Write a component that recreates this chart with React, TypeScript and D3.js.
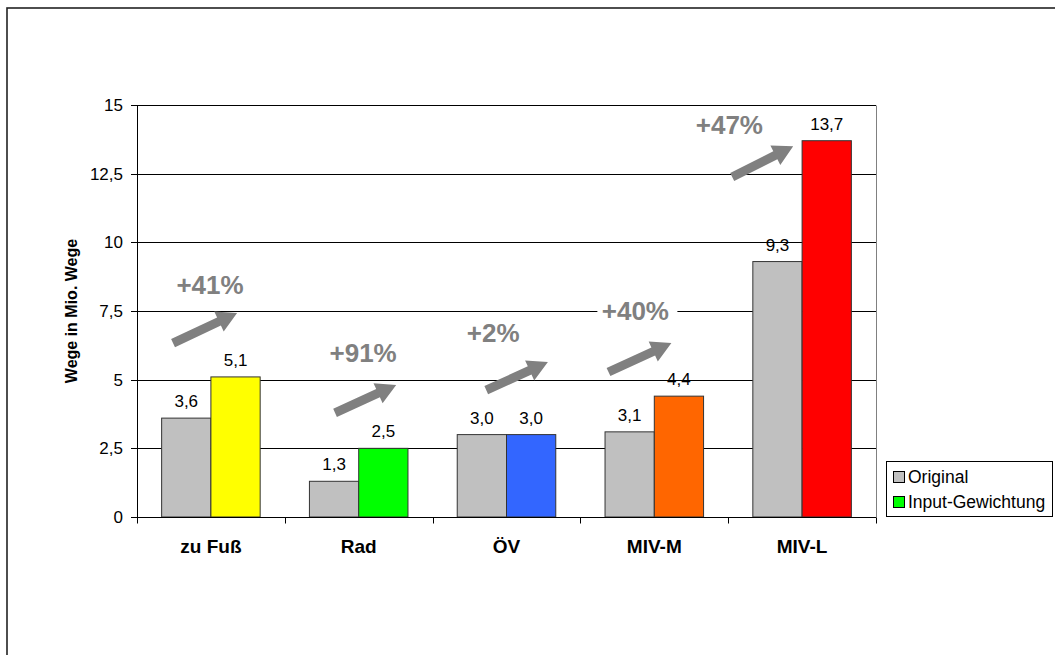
import React from "react";
import * as d3 from "d3";

const categories = ["zu Fuß", "Rad", "ÖV", "MIV-M", "MIV-L"];
const original = [3.6, 1.3, 3.0, 3.1, 9.3];
const weighted = [5.1, 2.5, 3.0, 4.4, 13.7];
const weightedColors = ["#FFFF00", "#00FF00", "#3366FF", "#FF6600", "#FF0000"];
const changes = ["+41%", "+91%", "+2%", "+40%", "+47%"];
const yTicks = [0, 2.5, 5, 7.5, 10, 12.5, 15];
const seriesNames = ["Original", "Input-Gewichtung"];

// annotation arrows in data terms: band fraction + y value
const arrowTailX = [0.244, 0.34, 0.363, 0.19, 0.027];
const arrowTailY = [6.33, 3.79, 4.62, 5.28, 12.38];
const arrowTipX = [0.677, 0.754, 0.78, 0.616, 0.44];
const arrowTipY = [7.43, 4.81, 5.64, 6.33, 13.5];
const labelX = [0.494, 0.53, 0.41, 0.372, 0.008];
const labelY = [8.45, 6.0, 6.7, 7.5, 14.27];

const W = 1055;
const H = 655;
const plot = { left: 137, right: 876, top: 105, bottom: 517 };
const FONT = "Liberation Sans, Arial, sans-serif";
const fmtTick = (v: number) => (Number.isInteger(v) ? String(v) : v.toFixed(1).replace(".", ","));
const fmtVal = (v: number) => v.toFixed(1).replace(".", ",");

function arrowPath(x1: number, y1: number, x2: number, y2: number) {
  const dx = x2 - x1, dy = y2 - y1;
  const len = Math.hypot(dx, dy);
  const ux = dx / len, uy = dy / len;
  const px = -uy, py = ux;
  const sw = 4.5, hl = 20, hw = 11;
  const bx = x2 - ux * hl, by = y2 - uy * hl;
  const pts = [
    [x1 + px * sw, y1 + py * sw],
    [bx + px * sw, by + py * sw],
    [bx + px * hw, by + py * hw],
    [x2, y2],
    [bx - px * hw, by - py * hw],
    [bx - px * sw, by - py * sw],
    [x1 - px * sw, y1 - py * sw],
  ];
  return "M" + pts.map((p) => p[0].toFixed(1) + "," + p[1].toFixed(1)).join("L") + "Z";
}

export default function App() {
  const x = d3.scaleBand<string>().domain(categories).range([plot.left, plot.right]).paddingInner(0).paddingOuter(0);
  const y = d3.scaleLinear().domain([0, 15]).range([plot.bottom, plot.top]);
  const bw = x.bandwidth();
  const barW = bw / 3;
  const ry = (v: number) => Math.round(y(v)) + 0.5;

  return (
    <svg width={W} height={H} style={{ position: "absolute", left: 0, top: 0 }} fontFamily={FONT}>
      <rect x={0} y={0} width={W} height={H} fill="#fff" />
      <rect x={7} y={8} width={1200} height={800} fill="none" stroke="#222" strokeWidth={1.6} />

      {/* gridlines */}
      {yTicks.filter((t) => t > 0).map((t) => (
        <line key={t} x1={plot.left} x2={plot.right} y1={ry(t)} y2={ry(t)} stroke="#000" strokeWidth={1} />
      ))}
      <line x1={plot.right + 0.5} x2={plot.right + 0.5} y1={ry(15)} y2={ry(0)} stroke="#808080" strokeWidth={1} />

      {/* bars */}
      {categories.map((c, i) => {
        const x0 = (x(c) as number) + barW / 2;
        return (
          <g key={c}>
            <rect x={x0} y={y(original[i])} width={barW} height={y(0) - y(original[i])} fill="#C0C0C0" stroke="#333" strokeWidth={1} />
            <rect x={x0 + barW} y={y(weighted[i])} width={barW} height={y(0) - y(weighted[i])} fill={weightedColors[i]} stroke="#333" strokeWidth={1} />
            <text x={x0 + barW / 2} y={y(original[i]) - 11} textAnchor="middle" fontSize={17} fill="#000">{fmtVal(original[i])}</text>
            <text x={x0 + barW * 1.5} y={y(weighted[i]) - 11} textAnchor="middle" fontSize={17} fill="#000">{fmtVal(weighted[i])}</text>
          </g>
        );
      })}

      {/* axes */}
      <line x1={plot.left + 0.5} x2={plot.left + 0.5} y1={ry(15)} y2={ry(0)} stroke="#000" strokeWidth={1} />
      <line x1={plot.left} x2={plot.right} y1={ry(0)} y2={ry(0)} stroke="#000" strokeWidth={1} />
      {yTicks.map((t) => (
        <g key={t}>
          <line x1={plot.left - 6} x2={plot.left} y1={ry(t)} y2={ry(t)} stroke="#000" />
          <text x={plot.left - 14} y={y(t)} dy="0.35em" textAnchor="end" fontSize={17} fill="#000">{fmtTick(t)}</text>
        </g>
      ))}
      {[...categories.map((c) => x(c) as number), plot.right].map((xv, i) => (
        <line key={i} x1={Math.round(xv) + 0.5} x2={Math.round(xv) + 0.5} y1={ry(0)} y2={ry(0) + 6} stroke="#000" />
      ))}
      {categories.map((c) => (
        <text key={c} x={(x(c) as number) + bw / 2} y={553} textAnchor="middle" fontSize={19} fontWeight="bold" fill="#000">{c}</text>
      ))}
      <text transform={`translate(77,${(plot.top + plot.bottom) / 2}) rotate(-90)`} textAnchor="middle" fontSize={16} fontWeight="bold" fill="#000">Wege in Mio. Wege</text>

      {/* annotations */}
      {categories.map((c, i) => {
        const bx = x(c) as number;
        const lx = bx + labelX[i] * bw;
        const ly = y(labelY[i]);
        return (
          <g key={"a" + c}>
            <path d={arrowPath(bx + arrowTailX[i] * bw, y(arrowTailY[i]), bx + arrowTipX[i] * bw, y(arrowTipY[i]))} fill="#808080" />
            {i === 3 && <rect x={lx - 38} y={ly - 12} width={80} height={24} fill="#fff" />}
            <text x={lx} y={ly} dy="0.36em" textAnchor="middle" fontSize={26} fontWeight="bold" fill="#808080">{changes[i]}</text>
          </g>
        );
      })}

      {/* legend */}
      <rect x={886.5} y={461.5} width={166} height={55} fill="#fff" stroke="#000" strokeWidth={1} />
      {seriesNames.map((s, i) => (
        <g key={s}>
          <rect x={893.5} y={471.5 + i * 25} width={11} height={11} fill={i === 0 ? "#C0C0C0" : "#00FF00"} stroke="#000" strokeWidth={1} />
          <text x={908} y={477 + i * 25} dy="0.36em" fontSize={17.5} fill="#000">{s}</text>
        </g>
      ))}
    </svg>
  );
}
